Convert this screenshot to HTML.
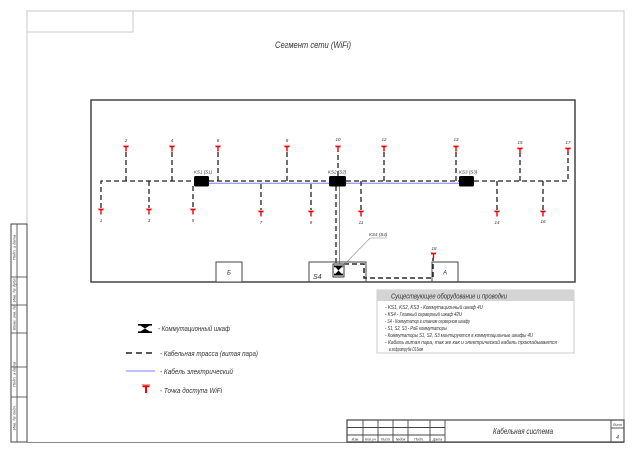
<!DOCTYPE html>
<html><head><meta charset="utf-8"><style>
html,body{margin:0;padding:0;background:#fff;}
svg{display:block;}
text{font-family:"Liberation Sans","DejaVu Sans",sans-serif;font-style:italic;fill:#333;}
</style></head><body>
<svg width="640" height="453" viewBox="0 0 640 453" xmlns="http://www.w3.org/2000/svg">
<defs>
<g id="ap">
<rect x="-3" y="0" width="6" height="1" fill="#f7a0a0"/>
<rect x="-2.5" y="1" width="5" height="1.3" fill="#e00"/>
<rect x="-0.7" y="1" width="1.4" height="5.5" fill="#e00"/>
</g>
<g id="hg">
<polygon points="0,0 14,0 7,4.5" fill="#000"/>
<polygon points="0,9 14,9 7,4.5" fill="#000"/>
<rect x="0" y="0" width="14" height="1.6" fill="#000"/>
<rect x="0" y="7.4" width="14" height="1.6" fill="#000"/>
</g>
</defs>

<!-- page frame -->
<path d="M27 442 V11 H624 V442" stroke="#c8c8c8" stroke-width="1" fill="none"/>
<path d="M27 32 H133 V11" stroke="#c8c8c8" stroke-width="1" fill="none"/>
<line x1="27" y1="442.5" x2="624" y2="442.5" stroke="#888" stroke-width="1"/>

<!-- left strip -->
<rect x="11" y="224" width="16" height="218" fill="none" stroke="#444" stroke-width="1"/>
<line x1="17" y1="224" x2="17" y2="442" stroke="#444" stroke-width="0.8"/>
<g stroke="#444" stroke-width="0.8">
<line x1="11" y1="277" x2="27" y2="277"/>
<line x1="11" y1="305" x2="27" y2="305"/>
<line x1="11" y1="333" x2="27" y2="333"/>
<line x1="11" y1="367" x2="27" y2="367"/>
<line x1="11" y1="397" x2="27" y2="397"/>
</g>
<g font-size="4">
<text transform="translate(15.5,260) rotate(-90)">Подп. и дата</text>
<text transform="translate(15.5,302) rotate(-90)">Инв. № дубл.</text>
<text transform="translate(15.5,330) rotate(-90)">Взам. инв. №</text>
<text transform="translate(15.5,387) rotate(-90)">Подп. и дата</text>
<text transform="translate(15.5,430) rotate(-90)">Инв. № подл.</text>
</g>

<!-- title -->
<text x="275" y="48" font-size="9" textLength="76" lengthAdjust="spacingAndGlyphs">Сегмент сети (WiFi)</text>

<!-- main rect -->
<rect x="91" y="100" width="484" height="182" fill="none" stroke="#444" stroke-width="1.5"/>

<!-- blue cables -->
<g stroke="#7f7fff" stroke-width="1" fill="none">
<line x1="209" y1="183.3" x2="459" y2="183.3"/>
<line x1="339.5" y1="186" x2="339.5" y2="264"/>
</g>

<!-- dashed cables -->
<g stroke="#222" stroke-width="1.3" stroke-dasharray="5 3" fill="none">
<path d="M101 208 V181 H194"/>
<path d="M209 181 H329"/>
<path d="M346 181 H459"/>
<path d="M474 181 H568 V152"/>
<path d="M126 181 V151"/>
<path d="M172 181 V151"/>
<path d="M218 181 V151"/>
<path d="M287 181 V151"/>
<path d="M338 176 V151"/>
<path d="M384 181 V151"/>
<path d="M456 181 V151"/>
<path d="M520 181 V153"/>
<path d="M149 181 V208"/>
<path d="M193 186 V208"/>
<path d="M261 184 V210"/>
<path d="M311 184 V210"/>
<path d="M361 181 V210"/>
<path d="M497 181 V210"/>
<path d="M543 181 V210"/>
<path d="M336 186 V264"/>
<path d="M344 264 H364 V278 H433 V258"/>
</g>

<!-- KS boxes -->
<rect x="194" y="176" width="15" height="10.5" rx="1.5" fill="#000"/>
<rect x="329" y="176" width="17" height="10.5" rx="1.5" fill="#000"/>
<rect x="459" y="176" width="15" height="10.5" rx="1.5" fill="#000"/>
<g font-size="4.5">
<text x="194" y="173.5">KS1 (S1)</text>
<text x="328" y="173.5">KS2 (S2)</text>
<text x="459" y="173.5">KS3 (S3)</text>
</g>

<!-- top APs -->
<use href="#ap" x="126" y="145"/>
<use href="#ap" x="172" y="145"/>
<use href="#ap" x="218" y="145"/>
<use href="#ap" x="287" y="145"/>
<use href="#ap" x="338" y="145"/>
<use href="#ap" x="384" y="145"/>
<use href="#ap" x="456" y="145"/>
<use href="#ap" x="520" y="147"/>
<use href="#ap" x="568" y="147"/>
<g font-size="4.5" text-anchor="middle">
<text x="126" y="142">2</text>
<text x="172" y="142">4</text>
<text x="218" y="142">6</text>
<text x="287" y="142">8</text>
<text x="338" y="141">10</text>
<text x="384" y="141">12</text>
<text x="456" y="141">13</text>
<text x="520" y="144">15</text>
<text x="568" y="144">17</text>
</g>

<!-- bottom APs -->
<use href="#ap" x="101" y="208"/>
<use href="#ap" x="149" y="208"/>
<use href="#ap" x="193" y="208"/>
<use href="#ap" x="261" y="210"/>
<use href="#ap" x="311" y="210"/>
<use href="#ap" x="361" y="210"/>
<use href="#ap" x="497" y="210"/>
<use href="#ap" x="543" y="210"/>
<g font-size="4.5" text-anchor="middle">
<text x="101" y="222">1</text>
<text x="149" y="222">3</text>
<text x="193" y="222">5</text>
<text x="261" y="224">7</text>
<text x="311" y="224">9</text>
<text x="361" y="224">11</text>
<text x="497" y="224">14</text>
<text x="543" y="223">16</text>
</g>

<!-- bottom boxes -->
<rect x="216" y="262" width="26" height="20" fill="#fff" stroke="#444" stroke-width="1"/>
<text x="229" y="274.5" font-size="6" text-anchor="middle" font-style="normal">Б</text>
<rect x="432" y="262" width="26" height="20" fill="none" stroke="#444" stroke-width="1"/>
<text x="445" y="274.5" font-size="6" text-anchor="middle" font-style="normal">A</text>
<rect x="309" y="262" width="57" height="20" fill="none" stroke="#444" stroke-width="1"/>
<text x="313" y="279" font-size="7">S4</text>
<!-- redraw dashed inside S4 on top -->
<g stroke="#222" stroke-width="1.3" stroke-dasharray="5 3" fill="none">
<path d="M344 264 H364 V278 H433 V258"/>
</g>
<rect x="333" y="264" width="11" height="13" fill="#fff" stroke="#000" stroke-width="0.8"/>
<g transform="translate(334,265.5) scale(0.64,1.1)"><use href="#hg"/></g>
<use href="#ap" x="433.5" y="252"/>
<text x="434" y="250" font-size="4.5" text-anchor="middle">18</text>
<!-- KS4 leader -->
<path d="M342 267 L370 238 H387" stroke="#888" stroke-width="0.6" fill="none"/>
<text x="369" y="236" font-size="4.5">KS4 (S4)</text>

<!-- right legend box -->
<rect x="377" y="290" width="197" height="63" fill="#fff" stroke="#ccc" stroke-width="1"/>
<rect x="377" y="290" width="197" height="11" fill="#d4d4d4"/>
<text x="391" y="298.5" font-size="7" textLength="116" lengthAdjust="spacingAndGlyphs">Существующее оборудование и проводки</text>
<g font-size="5">
<text x="385" y="309" textLength="98" lengthAdjust="spacingAndGlyphs">- KS1, KS2, KS3 - Коммутационный шкаф 4U</text>
<text x="385" y="316" textLength="77" lengthAdjust="spacingAndGlyphs">- KS4 - Главный серверный шкаф 42U</text>
<text x="385" y="323" textLength="85" lengthAdjust="spacingAndGlyphs">- S4 - Коммутатор в главном серверном шкафу</text>
<text x="385" y="330" textLength="62" lengthAdjust="spacingAndGlyphs">- S1, S2, S3 - PoE коммутаторы</text>
<text x="385" y="337" textLength="148" lengthAdjust="spacingAndGlyphs">- Коммутаторы S1, S2, S3 монтируются в коммутационные шкафы 4U</text>
<text x="385" y="344" textLength="172" lengthAdjust="spacingAndGlyphs">- Кабель витая пара, так же как и электрический кабель прокладывается</text>
<text x="389" y="351" textLength="34" lengthAdjust="spacingAndGlyphs">в гофротрубе D16мм</text>
</g>

<!-- left legend -->
<g transform="translate(138,324)"><use href="#hg"/></g>
<text x="158" y="331" font-size="7" textLength="72" lengthAdjust="spacingAndGlyphs">- Коммутационный шкаф</text>
<line x1="126" y1="353" x2="155" y2="353" stroke="#222" stroke-width="1.6" stroke-dasharray="6 4"/>
<text x="160" y="356" font-size="7" textLength="98" lengthAdjust="spacingAndGlyphs">- Кабельная трасса (витая пара)</text>
<line x1="126" y1="371" x2="155" y2="371" stroke="#7f7fff" stroke-width="1"/>
<text x="160" y="374" font-size="7" textLength="73" lengthAdjust="spacingAndGlyphs">- Кабель электрический</text>
<g transform="translate(146,384) scale(1.4)"><use href="#ap"/></g>
<text x="160" y="393" font-size="7" textLength="62" lengthAdjust="spacingAndGlyphs">- Точка доступа WiFi</text>

<!-- title block -->
<rect x="347" y="420" width="277" height="22" fill="none" stroke="#444" stroke-width="1.2"/>
<g stroke="#444" stroke-width="0.9">
<line x1="363" y1="420" x2="363" y2="442"/>
<line x1="378" y1="420" x2="378" y2="442"/>
<line x1="393" y1="420" x2="393" y2="442"/>
<line x1="408" y1="420" x2="408" y2="442"/>
<line x1="430" y1="420" x2="430" y2="442"/>
<line x1="445" y1="420" x2="445" y2="442"/>
<line x1="347" y1="427.5" x2="445" y2="427.5"/>
<line x1="347" y1="435" x2="445" y2="435"/>
<line x1="611" y1="420" x2="611" y2="442"/>
<line x1="611" y1="428" x2="624" y2="428"/>
</g>
<g font-size="3.6" text-anchor="middle">
<text x="355" y="440.5">Изм</text>
<text x="370.5" y="440.5">Кол.уч</text>
<text x="385.5" y="440.5">Лист</text>
<text x="400.5" y="440.5">№док</text>
<text x="419" y="440.5">Подп.</text>
<text x="437.5" y="440.5">Дата</text>
<text x="617.5" y="426">Лист</text>
</g>
<text x="617.5" y="439" font-size="5" text-anchor="middle">4</text>
<text x="493" y="434" font-size="8" textLength="60" lengthAdjust="spacingAndGlyphs">Кабельная система</text>
</svg>
</body></html>
